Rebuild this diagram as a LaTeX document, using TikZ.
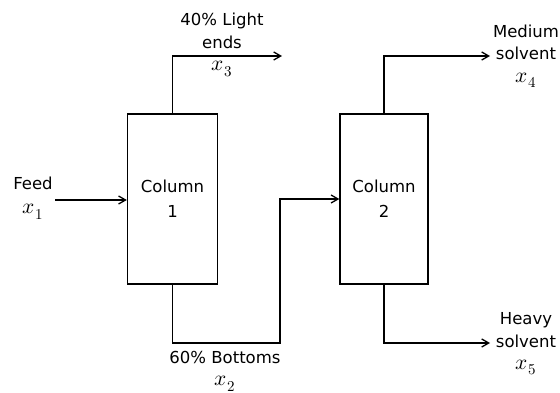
\documentclass[tikz,border=0pt]{standalone}
\usepackage{unicode-math}
\setmainfont{DejaVu Sans}
\setmathfont{Latin Modern Math}[Scale=1.3]
\usetikzlibrary{arrows.meta}
\begin{document}
\begin{tikzpicture}[x=1pt,y=-1pt,
  col/.style={draw,line width=1.3pt,minimum width=90pt,minimum height=170pt,inner sep=0pt,align=center,font=\fontsize{16.5}{25}\selectfont},
  flow/.style={line width=1.3pt,-{Straight Barb[length=7pt,width=8pt]}},
  lbl/.style={align=center,font=\fontsize{16.5}{22.5}\selectfont,inner sep=0pt}]
\useasboundingbox (0,0) rectangle (560,393);
\node[col] (c1) at (172.5,199) {Column\\1};
\node[col,minimum width=88pt] (c2) at (384,199) {Column\\2};
\coordinate (fs) at (55,200);
\coordinate (t3) at (282,56);
\coordinate (b2) at (280,343);
\coordinate (t4) at (490,56);
\coordinate (t5) at (490,343);
\draw[flow] (fs) -- (fs -| c1.west);
\draw[flow] (c1.north) |- (t3);
\draw[flow] (c1.south) |- (b2) |- (c2.west);
\draw[flow] (c2.north) |- (t4);
\draw[flow] (c2.south) |- (t5);
\node[lbl] (lf) at (33,198) {Feed\\[2pt]$x_1$};
\node[lbl] (l3) at (222,45) {40\% Light\\ends\\$x_3$};
\node[lbl] (l4) at (526,56) {Medium\\solvent\\$x_4$};
\node[lbl] (l5) at (526,344) {Heavy\\solvent\\$x_5$};
\node[lbl] (l2) at (225,371) {60\% Bottoms\\$x_2$};
\end{tikzpicture}
\end{document}
